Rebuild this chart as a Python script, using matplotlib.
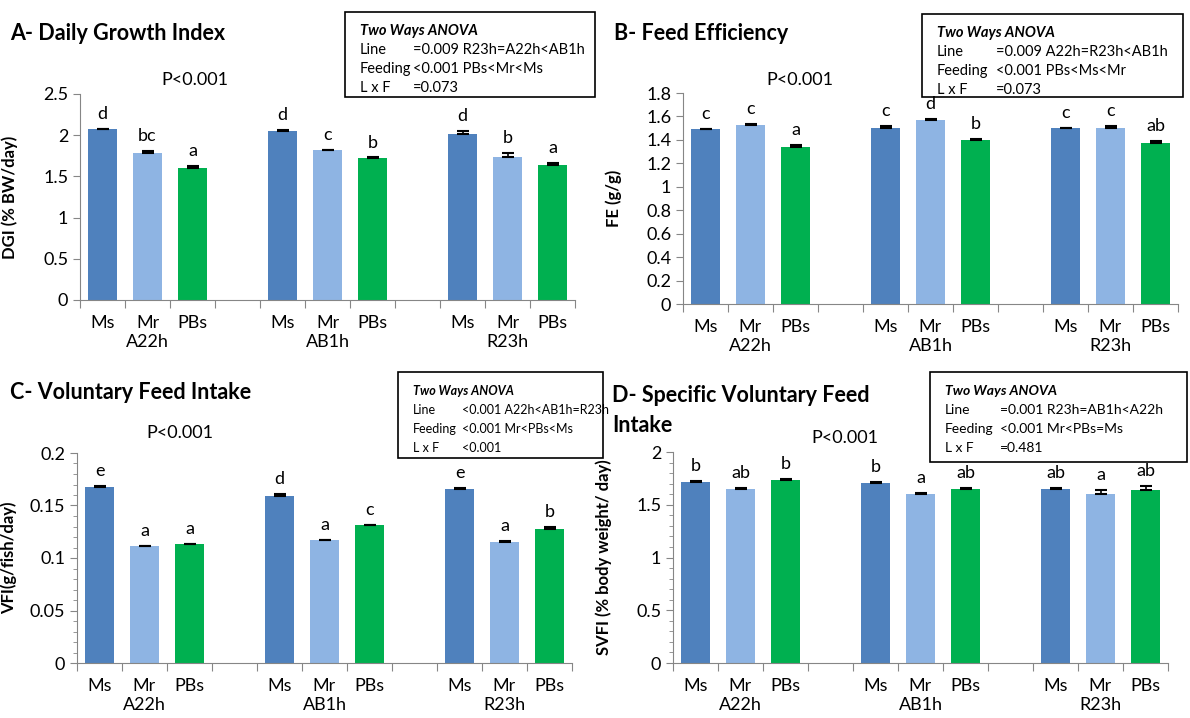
import matplotlib
matplotlib.use("Agg")
import matplotlib.pyplot as plt
import numpy as np
from matplotlib.patches import Rectangle
from matplotlib.ticker import MultipleLocator, FuncFormatter

plt.rcParams['font.family'] = ['Lato', 'DejaVu Sans']

W, H = 1190, 718

feeds = ['Ms', 'Mr', 'PBs']
lines = ['A22h', 'AB1h', 'R23h']
colors = ['#4F81BD', '#8EB4E3', '#00B050']

# values per line (A22h, AB1h, R23h), order Ms, Mr, PBs
dgi = [2.07, 1.79, 1.60, 2.05, 1.82, 1.72, 2.02, 1.73, 1.64]
dgi_err = [0.005, 0.02, 0.025, 0.01, 0.005, 0.01, 0.03, 0.05, 0.02]
dgi_let = ['d', 'bc', 'a', 'd', 'c', 'b', 'd', 'b', 'a']

fe = [1.49, 1.53, 1.34, 1.50, 1.57, 1.40, 1.50, 1.50, 1.37]
fe_err = [0.005, 0.008, 0.02, 0.02, 0.008, 0.005, 0.005, 0.02, 0.02]
fe_let = ['c', 'c', 'a', 'c', 'd', 'b', 'c', 'c', 'ab']

vfi = [0.168, 0.111, 0.113, 0.159, 0.117, 0.131, 0.166, 0.115, 0.128]
vfi_err = [0.0005, 0.0005, 0.0005, 0.002, 0.0005, 0.0005, 0.001, 0.001, 0.0015]
vfi_let = ['e', 'a', 'a', 'd', 'a', 'c', 'e', 'a', 'b']

svfi = [1.72, 1.65, 1.73, 1.71, 1.60, 1.65, 1.65, 1.60, 1.64]
svfi_err = [0.005, 0.005, 0.01, 0.01, 0.01, 0.01, 0.005, 0.04, 0.035]
svfi_let = ['b', 'ab', 'b', 'b', 'a', 'ab', 'ab', 'a', 'ab']

anova_a = [('Line', '=0.009 R23h=A22h<AB1h'), ('Feeding', '<0.001 PBs<Mr<Ms'), ('L x F', '=0.073')]
anova_b = [('Line', '=0.009 A22h=R23h<AB1h'), ('Feeding', '<0.001 PBs<Ms<Mr'), ('L x F', '=0.073')]
anova_c = [('Line', '<0.001 A22h<AB1h=R23h'), ('Feeding', '<0.001 Mr<PBs<Ms'), ('L x F', '<0.001')]
anova_d = [('Line', '=0.001 R23h=AB1h<A22h'), ('Feeding', '<0.001 Mr<PBs=Ms'), ('L x F', '=0.481')]

fig = plt.figure(figsize=(W / 100, H / 100), dpi=100)


def fx(px):
    return px / W


def fy(py):
    return 1 - py / H


def panel(x0, x1, ytop, ybot, vals, errs, lets, ymax, ystep, minor, ylabel, ylab_x):
    ax = fig.add_axes([fx(x0), fy(ybot), fx(x1 - x0), (ybot - ytop) / H])
    pos = [g * 4 + i for g in range(3) for i in range(3)]
    cols = colors * 3
    ax.bar(pos, vals, width=0.66, color=cols, zorder=2)
    ax.errorbar(pos, vals, yerr=[np.zeros(9), errs], fmt='none', ecolor='black',
                elinewidth=1.2, capsize=4, capthick=1.5, zorder=3)
    for p, v, e, l in zip(pos, vals, errs, lets):
        ax.annotate(l, (p, v + e), xytext=(0, 5), textcoords='offset points',
                    ha='center', va='bottom', fontsize=13)
    ax.set_xlim(-0.5, 10.5)
    ax.set_ylim(0, ymax)
    ax.set_xticks(np.arange(-0.5, 11, 1))
    ax.set_xticklabels([])
    ax.set_xticks(pos, minor=True)
    labs = []
    for g in range(3):
        labs += ['Ms', 'Mr\n' + lines[g], 'PBs']
    ax.set_xticklabels(labs, minor=True, fontsize=13)
    ax.tick_params(axis='x', which='minor', length=0, pad=11)
    ax.tick_params(axis='x', which='major', length=6, color='#868686', direction='out')
    ax.yaxis.set_major_locator(MultipleLocator(ystep))
    ax.yaxis.set_major_formatter(FuncFormatter(lambda v, p: f'{v:g}'))
    if minor:
        ax.yaxis.set_minor_locator(MultipleLocator(minor))
        ax.tick_params(axis='y', which='minor', length=3, color='#868686')
    ax.tick_params(axis='y', which='major', length=5, color='#868686', labelsize=13)
    for s in ['top', 'right']:
        ax.spines[s].set_visible(False)
    for s in ['left', 'bottom']:
        ax.spines[s].set_color('#868686')
    ax.set_ylabel(ylabel, fontsize=12, fontweight='bold')
    ax.yaxis.set_label_coords((ylab_x - x0) / (x1 - x0), 0.5)
    return ax


def anova_box(x0, y0, x1, y1, rows, val_x, fs):
    fig.patches.append(Rectangle((fx(x0), fy(y1)), fx(x1 - x0), (y1 - y0) / H,
                                 transform=fig.transFigure, fill=False,
                                 edgecolor='black', linewidth=1.2))
    fig.text(fx(x0 + 15), fy(y0 + 19), 'Two Ways ANOVA', fontsize=fs,
             fontweight='bold', fontstyle='italic', va='center')
    for k, (lab, val) in enumerate(rows):
        yy = y0 + 38 + k * 19
        fig.text(fx(x0 + 15), fy(yy), lab, fontsize=fs, va='center')
        fig.text(fx(val_x), fy(yy), val, fontsize=fs, va='center')


panel(80, 575, 94, 300, dgi, dgi_err, dgi_let, 2.5, 0.5, None, 'DGI (% BW/day)', 18)
panel(683, 1178, 93, 304, fe, fe_err, fe_let, 1.8, 0.2, None, 'FE (g/g)', 622)
panel(77, 572, 453, 663, vfi, vfi_err, vfi_let, 0.2, 0.05, 0.01, 'VFI(g/fish/day)', 17)
panel(673, 1168, 452, 663, svfi, svfi_err, svfi_let, 2.0, 0.5, 0.1, 'SVFI (% body weight/ day)', 612)

tkw = dict(fontsize=15.5, fontweight='bold', va='center')
fig.text(fx(10), fy(33), 'A- Daily Growth Index', **tkw)
fig.text(fx(614), fy(33), 'B- Feed Efficiency', **tkw)
fig.text(fx(10), fy(393), 'C- Voluntary Feed Intake', **tkw)
fig.text(fx(612), fy(396), 'D- Specific Voluntary Feed', **tkw)
fig.text(fx(612), fy(425), 'Intake', **tkw)

pkw = dict(fontsize=13, ha='center', va='center')
fig.text(fx(195), fy(80), 'P<0.001', **pkw)
fig.text(fx(800), fy(80), 'P<0.001', **pkw)
fig.text(fx(180), fy(433), 'P<0.001', **pkw)
fig.text(fx(845), fy(438), 'P<0.001', **pkw)

anova_box(345, 12, 595, 97, anova_a, 413, 10.5)
anova_box(922, 14, 1183, 97, anova_b, 996, 10.5)
anova_box(398, 372, 603, 458, anova_c, 462, 9)
anova_box(930, 372, 1187, 462, anova_d, 1000, 10)

fig.savefig('out.png', dpi=100)
